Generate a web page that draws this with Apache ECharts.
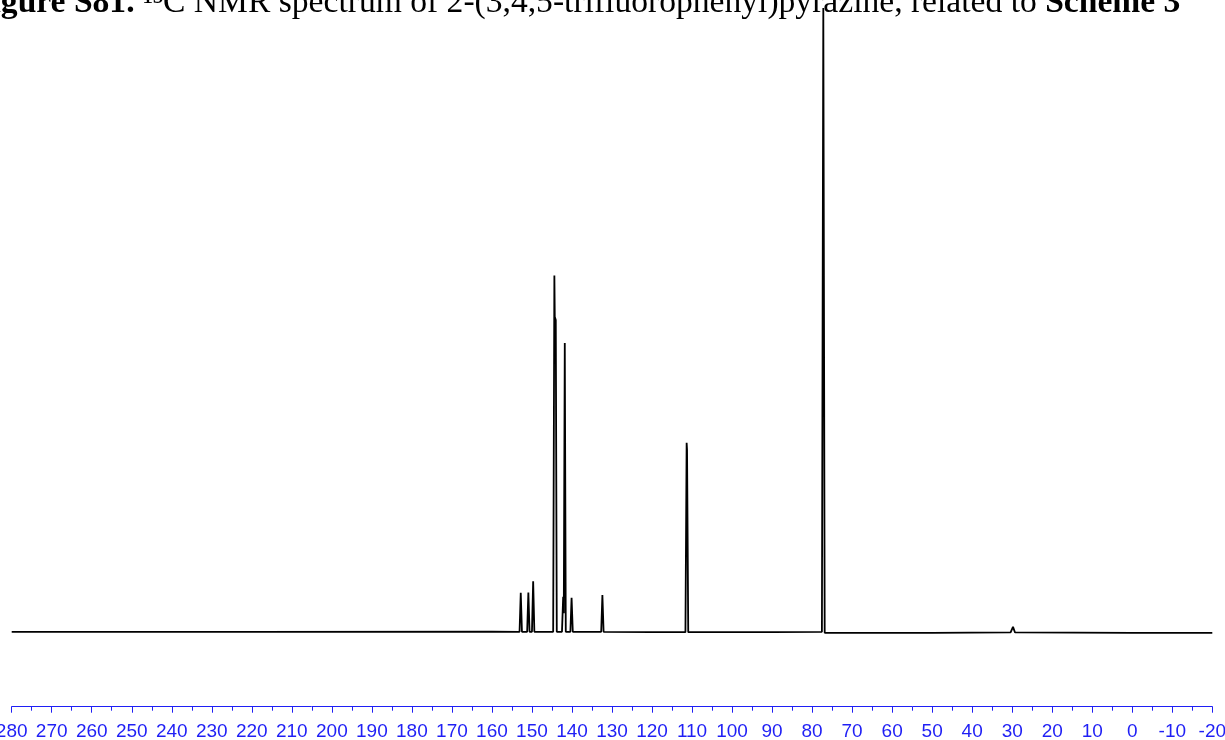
<!DOCTYPE html>
<html>
<head>
<meta charset="utf-8">
<script src="https://cdn.jsdelivr.net/npm/echarts@6/dist/echarts.min.js"></script>
<style>
  html, body { margin: 0; padding: 0; background: #fff; }
  #chart { width: 1225px; height: 740px; }
</style>
</head>
<body>
<div id="chart"></div>
<script>
// Title pieces
const titleBold = 'Figure S81.';
const titleMain = ' \u00B9\u00B3C NMR spectrum of 2-(3,4,5-trifluorophenyl)pyrazine, related to ';
const titleScheme = 'Scheme 3';

// Chemical shift axis (ppm), reversed
const ppmRange = [-20, 280];
const ppmStep = 10;

// Spectrum trace: chemical shift (ppm) and relative intensity
const shifts = [
  280, 220, 160, 153.1, 152.8, 152.5, 151.2, 150.9, 150.6, 150.0, 149.7, 149.4,
  144.7, 144.4, 144.3, 144.05, 143.8,
  142.5, 142.2, 142.05, 141.8, 141.55,
  140.4, 140.1, 139.8,
  132.7, 132.4, 132.1,
  120, 111.65, 111.35, 111.25, 110.95,
  90, 77.55, 77.2, 76.85,
  50, 30.4, 29.8, 29.3, 0, -20
];
const intensities = [
  0, 0, 0.05, 0, 6.25, 0, 0, 6.3, 0, 0, 8.1, 0,
  0, 57.1, 50.5, 50.0, 0,
  0, 5.6, 3.0, 46.3, 0,
  0, 5.45, 0,
  0, 5.9, 0,
  -0.05, -0.05, 30.3, 29.2, -0.05,
  -0.05, 0, 100, -0.15,
  -0.15, -0.1, 0.8, -0.1, -0.15, -0.15
];

const blue = '#1f1ff5';
const data = shifts.map((s, i) => [s, intensities[i]]);

const chart = echarts.init(document.getElementById('chart'), null, { renderer: 'canvas' });
chart.setOption({
  animation: false,
  backgroundColor: '#ffffff',
  grid: { left: 11.7, right: 12.7, top: 8, bottom: 33.3, containLabel: false, outerBoundsMode: 'none' },
  xAxis: {
    type: 'value',
    inverse: true,
    min: ppmRange[0],
    max: ppmRange[1],
    interval: ppmStep,
    axisLine: { show: true, onZero: false, lineStyle: { color: blue, width: 1 } },
    axisTick: { show: true, inside: false, length: 6, lineStyle: { color: blue, width: 1 } },
    minorTick: { show: true, splitNumber: 2, length: 4, lineStyle: { color: blue, width: 1 } },
    splitLine: { show: false },
    axisLabel: {
      color: blue,
      fontSize: 19,
      fontFamily: 'Liberation Sans',
      margin: 16,
      showMinLabel: true,
      showMaxLabel: true,
      hideOverlap: false
    }
  },
  yAxis: {
    type: 'value',
    min: -12,
    max: 100,
    show: false
  },
  graphic: [{
    type: 'text',
    z: 0,
    style: {
      x: -29,
      y: 3,
      verticalAlign: 'middle',
      align: 'left',
      text: '{b|' + titleBold + '}{n|' + titleMain + '}{b|' + titleScheme + '}',
      rich: {
        b: { fontFamily: 'Liberation Serif', fontSize: 33.6, fontWeight: 'bold', fill: '#000' },
        n: { fontFamily: 'Liberation Serif', fontSize: 33.6, fill: '#000' }
      }
    }
  }],
  series: [{
    type: 'line',
    data: data,
    showSymbol: false,
    symbol: 'none',
    sampling: null,
    z: 5,
    lineStyle: { color: '#000', width: 1.8 },
    clip: false
  }]
});
</script>
</body>
</html>
